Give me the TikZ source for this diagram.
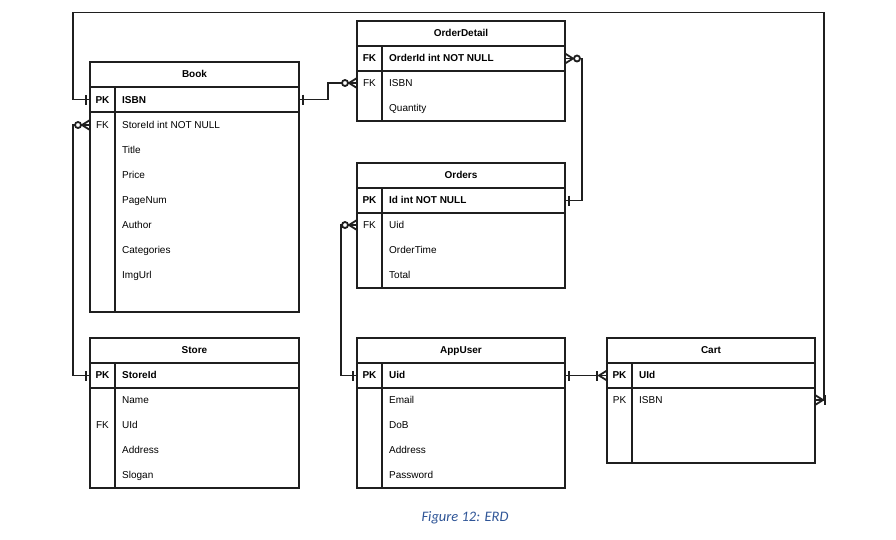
\documentclass[tikz,border=0pt]{standalone}
\usepackage{fontspec}
\setmainfont{Liberation Sans}
\newfontfamily\capfont{Carlito}
\definecolor{capblue}{HTML}{2F5597}
\begin{document}
\begin{tikzpicture}[x=1pt,y=-1pt,
  frame/.style={line width=1.8pt, draw=black!88},
  txt/.style={inner sep=0pt, text height=7.2pt, text depth=0.4pt},
  hdr/.style={frame, txt, anchor=north west, outer sep=0pt, minimum height=25pt,
    font=\fontsize{10}{12}\selectfont\bfseries},
  rowbox/.style={frame, anchor=north west, inner sep=0pt, outer sep=0pt, minimum height=25pt},
  keytxt/.style={txt, font=\fontsize{10}{12}\selectfont},
  keybold/.style={keytxt, font=\fontsize{10}{12}\selectfont\bfseries},
  fld/.style={txt, anchor=west, font=\fontsize{10}{12}\selectfont},
  fldbold/.style={fld, font=\fontsize{10}{12}\selectfont\bfseries},
  conn/.style={line width=1.8pt, draw=black!88},
  erone/.pic={\draw[conn] (4,-5) -- (4,5);},
  erzmany/.pic={\draw[conn] (0,-5) -- (8,0) -- (0,5); \draw[conn, fill=white] (12,0) circle (3);},
  ermandmany/.pic={\draw[conn] (0,-5) -- (8,0) -- (0,5); \draw[conn] (10,-5) -- (10,5);},
]
\useasboundingbox[fill=white] (0,0) rectangle (896,539);

% ---------- Book ----------
\node[hdr, minimum width=209pt] (book) at (90,62) {Book};
\node[rowbox, minimum width=209pt] (bookpk) at (book.south west) {};
\node[rowbox, minimum width=209pt, minimum height=200pt] (bookbody) at (bookpk.south west) {};
\draw[frame] ([xshift=25pt]bookpk.north west) -- ([xshift=25pt]bookbody.south west);
\node[keybold] (book-kpk) at (102.5,100) {PK};
\node[fldbold] (book-isbn) at (122,100) {ISBN};
\node[keytxt] (book-kfk) at (102.5,125) {FK};
\node[fld] (book-storeid) at (122,125) {StoreId int NOT NULL};
\node[fld] (book-title) at (122,150) {Title};
\node[fld] (book-price) at (122,175) {Price};
\node[fld] (book-pages) at (122,200) {PageNum};
\node[fld] (book-author) at (122,225) {Author};
\node[fld] (book-cat) at (122,250) {Categories};
\node[fld] (book-img) at (122,275) {ImgUrl};

% ---------- OrderDetail ----------
\node[hdr, minimum width=208pt] (od) at (357,21) {OrderDetail};
\node[rowbox, minimum width=208pt] (odpk) at (od.south west) {};
\node[rowbox, minimum width=208pt, minimum height=50pt] (odbody) at (odpk.south west) {};
\draw[frame] ([xshift=25pt]odpk.north west) -- ([xshift=25pt]odbody.south west);
\node[keybold] (od-kfk1) at (369.5,58) {FK};
\node[fldbold] (od-orderid) at (389,58) {OrderId int NOT NULL};
\node[keytxt] (od-kfk2) at (369.5,83) {FK};
\node[fld] (od-isbn) at (389,83) {ISBN};
\node[fld] (od-qty) at (389,108) {Quantity};

% ---------- Orders ----------
\node[hdr, minimum width=208pt] (ord) at (357,163) {Orders};
\node[rowbox, minimum width=208pt] (ordpk) at (ord.south west) {};
\node[rowbox, minimum width=208pt, minimum height=75pt] (ordbody) at (ordpk.south west) {};
\draw[frame] ([xshift=25pt]ordpk.north west) -- ([xshift=25pt]ordbody.south west);
\node[keybold] (ord-kpk) at (369.5,200) {PK};
\node[fldbold] (ord-id) at (389,200) {Id int NOT NULL};
\node[keytxt] (ord-kfk) at (369.5,225) {FK};
\node[fld] (ord-uid) at (389,225) {Uid};
\node[fld] (ord-time) at (389,250) {OrderTime};
\node[fld] (ord-total) at (389,275) {Total};

% ---------- Store ----------
\node[hdr, minimum width=209pt] (store) at (90,338) {Store};
\node[rowbox, minimum width=209pt] (storepk) at (store.south west) {};
\node[rowbox, minimum width=209pt, minimum height=100pt] (storebody) at (storepk.south west) {};
\draw[frame] ([xshift=25pt]storepk.north west) -- ([xshift=25pt]storebody.south west);
\node[keybold] (store-kpk) at (102.5,375) {PK};
\node[fldbold] (store-id) at (122,375) {StoreId};
\node[fld] (store-name) at (122,400) {Name};
\node[keytxt] (store-kfk) at (102.5,425) {FK};
\node[fld] (store-uid) at (122,425) {UId};
\node[fld] (store-addr) at (122,450) {Address};
\node[fld] (store-slogan) at (122,475) {Slogan};

% ---------- AppUser ----------
\node[hdr, minimum width=208pt] (au) at (357,338) {AppUser};
\node[rowbox, minimum width=208pt] (aupk) at (au.south west) {};
\node[rowbox, minimum width=208pt, minimum height=100pt] (aubody) at (aupk.south west) {};
\draw[frame] ([xshift=25pt]aupk.north west) -- ([xshift=25pt]aubody.south west);
\node[keybold] (au-kpk) at (369.5,375) {PK};
\node[fldbold] (au-uid) at (389,375) {Uid};
\node[fld] (au-email) at (389,400) {Email};
\node[fld] (au-dob) at (389,425) {DoB};
\node[fld] (au-addr) at (389,450) {Address};
\node[fld] (au-pass) at (389,475) {Password};

% ---------- Cart ----------
\node[hdr, minimum width=208pt] (cart) at (607,338) {Cart};
\node[rowbox, minimum width=208pt] (cartpk) at (cart.south west) {};
\node[rowbox, minimum width=208pt, minimum height=75pt] (cartbody) at (cartpk.south west) {};
\draw[frame] ([xshift=25pt]cartpk.north west) -- ([xshift=25pt]cartbody.south west);
\node[keybold] (cart-kpk1) at (619.5,375) {PK};
\node[fldbold] (cart-uid) at (639,375) {UId};
\node[keytxt] (cart-kpk2) at (619.5,400) {PK};
\node[fld] (cart-isbn) at (639,400) {ISBN};

% ---------- relationships ----------
\coordinate (topl) at (73,12.5);
\draw[conn] (cartbody.east |- cart-isbn) -- ++(9,0) |- (topl) |- (bookpk.west);
\draw[conn] (bookpk.east) -- ++(29,0) |- (odbody.west |- od-isbn);
\draw[conn] (odpk.east) -- ++(17,0) |- (ordpk.east);
\draw[conn] (ordbody.west |- ord-uid) -- ++(-16,0) |- (aupk.west);
\draw[conn] (bookbody.west |- book-storeid) -- ++(-17,0) |- (storepk.west);
\draw[conn] (aupk.east) -- (cartpk.west);

% cardinality marks
\pic[rotate=180] at (bookpk.west) {erone};
\pic at (bookpk.east) {erone};
\pic[rotate=180] at (odbody.west |- od-isbn) {erzmany};
\pic at (odpk.east) {erzmany};
\pic at (ordpk.east) {erone};
\pic[rotate=180] at (ordbody.west |- ord-uid) {erzmany};
\pic[rotate=180] at (aupk.west) {erone};
\pic[rotate=180] at (bookbody.west |- book-storeid) {erzmany};
\pic[rotate=180] at (storepk.west) {erone};
\pic at (aupk.east) {erone};
\pic[rotate=180] at (cartpk.west) {ermandmany};
\pic at (cartbody.east |- cart-isbn) {ermandmany};

% caption
\node[font=\capfont\itshape\fontsize{14.5}{17}\selectfont, text=capblue] (cap) at (465,518) {Figure 12: ERD};
\end{tikzpicture}
\end{document}
